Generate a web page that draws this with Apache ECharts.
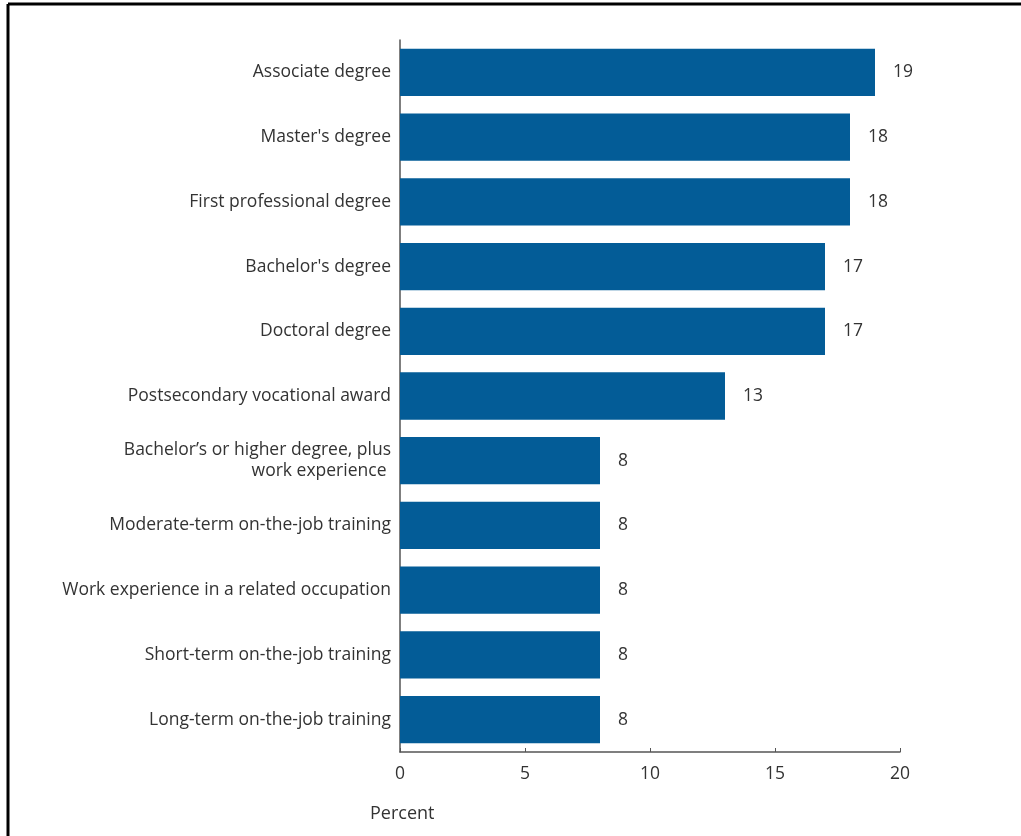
<!DOCTYPE html>
<html>
<head>
<meta charset="utf-8">
<script src="https://cdn.jsdelivr.net/npm/echarts@6/dist/echarts.min.js"></script>
<style>
  html, body { margin: 0; padding: 0; background: #ffffff; }
  #chart { width: 1021px; height: 836px; }
</style>
</head>
<body>
<div id="chart"></div>
<script>
// Education / training categories, listed top to bottom
const categories = [
  'Associate degree',
  "Master's degree",
  'First professional degree',
  "Bachelor's degree",
  'Doctoral degree',
  'Postsecondary vocational award',
  'Bachelor\u2019s or higher degree, plus\nwork experience ',
  'Moderate-term on-the-job training',
  'Work experience in a related occupation',
  'Short-term on-the-job training',
  'Long-term on-the-job training'
];

// Percent values for each category (same order)
const percentValues = [19, 18, 18, 17, 17, 13, 8, 8, 8, 8, 8];

// Horizontal axis ticks
const xTicks = [0, 5, 10, 15, 20];

const FONT = '"Open Sans", "Noto Sans", sans-serif';
const TEXT = '#333333';
const SIZE = 17.5;

const chart = echarts.init(document.getElementById('chart'));

chart.setOption({
  animation: false,
  backgroundColor: '#ffffff',
  grid: { left: 400, right: 121, top: 40, bottom: 84, containLabel: false },
  xAxis: {
    type: 'value',
    min: xTicks[0],
    max: xTicks[xTicks.length - 1],
    interval: xTicks[1] - xTicks[0],
    axisLine: { show: true, lineStyle: { color: '#555555', width: 1.5 } },
    axisTick: { show: true, inside: true, length: 4, lineStyle: { color: '#555555' } },
    splitLine: { show: false },
    axisLabel: { color: TEXT, fontFamily: FONT, fontSize: SIZE, margin: 13 }
  },
  yAxis: {
    type: 'category',
    data: categories,
    inverse: true,
    axisLine: { show: true, lineStyle: { color: '#555555', width: 1.5 } },
    axisTick: { show: false },
    axisLabel: {
      color: TEXT, fontFamily: FONT, fontSize: SIZE, margin: 9,
      align: 'right', lineHeight: 21
    }
  },
  series: [{
    type: 'bar',
    data: percentValues,
    barCategoryGap: '27%',
    itemStyle: { color: '#035c97' },
    label: {
      show: true,
      position: 'right',
      distance: 18,
      color: TEXT,
      fontFamily: FONT,
      fontSize: SIZE
    }
  }],
  graphic: [
    { type: 'text', left: 370, top: 805,
      style: { text: 'Percent', fill: TEXT, font: '18px ' + FONT } },
    { type: 'line', shape: { x1: 8, y1: 4, x2: 1021, y2: 4 },
      style: { stroke: '#000000', lineWidth: 3 } },
    { type: 'line', shape: { x1: 8, y1: 4, x2: 8, y2: 836 },
      style: { stroke: '#000000', lineWidth: 3 } }
  ]
});
</script>
</body>
</html>
